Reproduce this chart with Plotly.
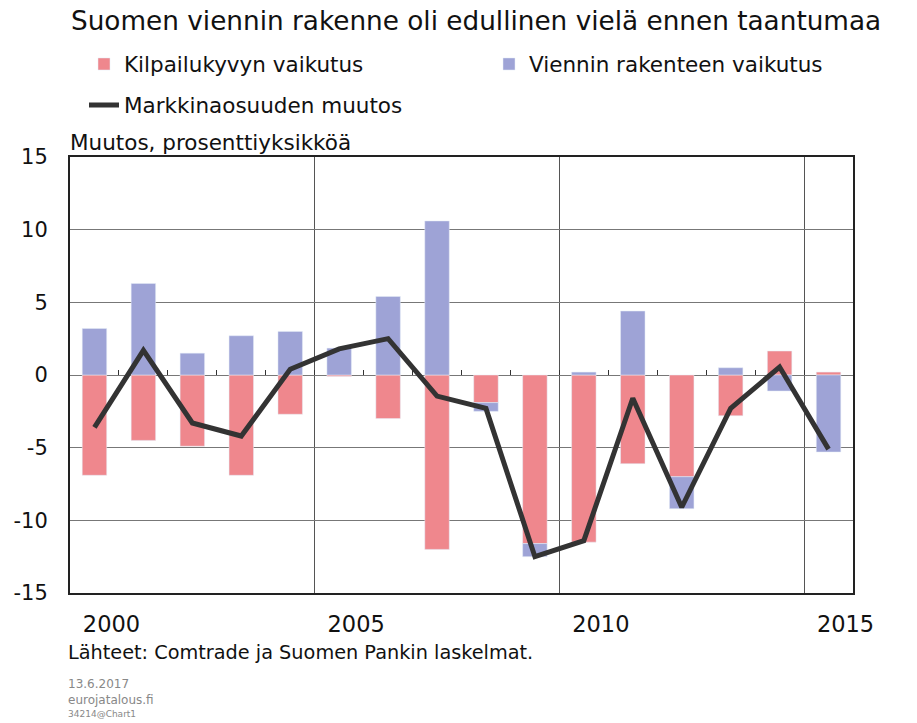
import plotly.graph_objects as go

years = list(range(2000, 2016))

# Kilpailukyvyn vaikutus (punainen)
kilpailukyky = [-6.9, -4.5, -4.9, -6.9, -2.7, -0.1, -3.0, -12.0,
                -1.9, -11.6, -11.5, -6.1, -7.0, -2.8, 1.65, 0.2]
# Viennin rakenteen vaikutus (sininen)
rakenne = [3.2, 6.3, 1.5, 2.7, 3.0, 1.85, 5.4, 10.6,
           -0.6, -0.9, 0.2, 4.4, -2.2, 0.5, -1.1, -5.3]
# Markkinaosuuden muutos (viiva)
markkinaosuus = [-3.6, 1.7, -3.3, -4.2, 0.4, 1.8, 2.5, -1.45,
                 -2.3, -12.5, -11.4, -1.6, -9.1, -2.3, 0.55, -5.1]

tick_years = [2000, 2005, 2010, 2015]
y_ticks = [-15, -10, -5, 0, 5, 10, 15]
y_ticktext = [str(v) for v in y_ticks]

red = "#EF878D"
blue = "#9EA3D6"
font = "DejaVu Sans, Arial, sans-serif"

# the page adds an 8 px body margin, so the figure is 8 px smaller
W, H = 909, 715
top, bottom = 149, 585


def py(y):
    # reference pixel row -> paper y
    return (bottom - (y - 8)) / (bottom - top)


fig = go.Figure()
fig.add_trace(go.Bar(x=years, y=kilpailukyky, name="Kilpailukyvyn vaikutus",
                     marker_color=red, width=0.5, legend="legend"))
fig.add_trace(go.Bar(x=years, y=rakenne, name="Viennin rakenteen vaikutus",
                     marker_color=blue, width=0.5, legend="legend3"))
fig.add_trace(go.Scatter(x=years, y=markkinaosuus, name="Markkinaosuuden muutos",
                         mode="lines", line=dict(color="#333333", width=5),
                         legend="legend2"))

# small ticks on the zero line between years
fig.add_trace(go.Scatter(x=[years[0]], y=[None], xaxis="x2", showlegend=False,
                         hoverinfo="skip"))

leg = dict(orientation="h", xref="container", yref="container",
           xanchor="left", yanchor="middle", itemwidth=30,
           font=dict(size=21.5), bgcolor="rgba(0,0,0,0)")

fig.update_layout(
    width=W, height=H,
    barmode="relative",
    plot_bgcolor="white", paper_bgcolor="white",
    font=dict(family=font, size=21, color="#111111"),
    margin=dict(l=62, r=64, t=top, b=H - bottom, autoexpand=False),
    title=dict(text="Suomen viennin rakenne oli edullinen vielä ennen taantumaa",
               x=63 / W, xanchor="left", y=1 - 13 / H, yanchor="middle",
               font=dict(size=26.3, color="#111111")),
    legend=dict(leg, x=76 / W, y=1 - 56 / H),
    legend3=dict(leg, x=481 / W, y=1 - 56 / H),
    legend2=dict(leg, x=76 / W, y=1 - 97 / H),
    xaxis=dict(range=[1999.5, 2015.5], tickvals=tick_years, ticks="",
               tickfont=dict(size=22.5),
               ticklabelshift=17, ticklabelstandoff=10, automargin=False,
               showgrid=False, zeroline=False,
               showline=True, mirror=True, linecolor="#222222", linewidth=2,
               minor=dict(tickvals=[2004.5, 2009.5, 2014.5], showgrid=True,
                          gridcolor="#555555", gridwidth=1, ticks="")),
    xaxis2=dict(range=[1999.5, 2015.5], overlaying="x", anchor="free",
                position=0.5, side="top", automargin=False,
                tickvals=[y + 0.5 for y in years[:-1]], ticks="outside",
                ticklen=5, tickcolor="#333333", tickwidth=1,
                showticklabels=False, showgrid=False, showline=False,
                zeroline=False),
    yaxis=dict(range=[-15, 15], tickvals=y_ticks, ticktext=y_ticktext,
               ticks="", ticklabelstandoff=16, automargin=False,
               showgrid=True, gridcolor="#777777", gridwidth=1.2,
               zeroline=False,
               showline=True, mirror=True, linecolor="#222222", linewidth=2),
)

fig.add_annotation(text="Muutos, prosenttiyksikköä", xref="paper", yref="paper",
                   x=-2 / 783, y=1, xanchor="left", yanchor="bottom",
                   showarrow=False, font=dict(size=21.5))
fig.add_annotation(text="Lähteet: Comtrade ja Suomen Pankin laskelmat.",
                   xref="paper", yref="paper", x=-4 / 783,
                   y=py(652), xanchor="left", yanchor="middle",
                   showarrow=False, font=dict(size=19.3))
fig.add_annotation(text="13.6.2017", xref="paper", yref="paper", x=-4 / 783,
                   y=py(684), xanchor="left", yanchor="middle",
                   showarrow=False, font=dict(size=12, color="#888888"))
fig.add_annotation(text="eurojatalous.fi", xref="paper", yref="paper",
                   x=-4 / 783, y=py(700), xanchor="left", yanchor="middle",
                   showarrow=False, font=dict(size=12, color="#888888"))
fig.add_annotation(text="34214@Chart1", xref="paper", yref="paper",
                   x=-4 / 783, y=py(714), xanchor="left", yanchor="middle",
                   showarrow=False, font=dict(size=9, color="#888888"))

fig.write_html("out.html")
